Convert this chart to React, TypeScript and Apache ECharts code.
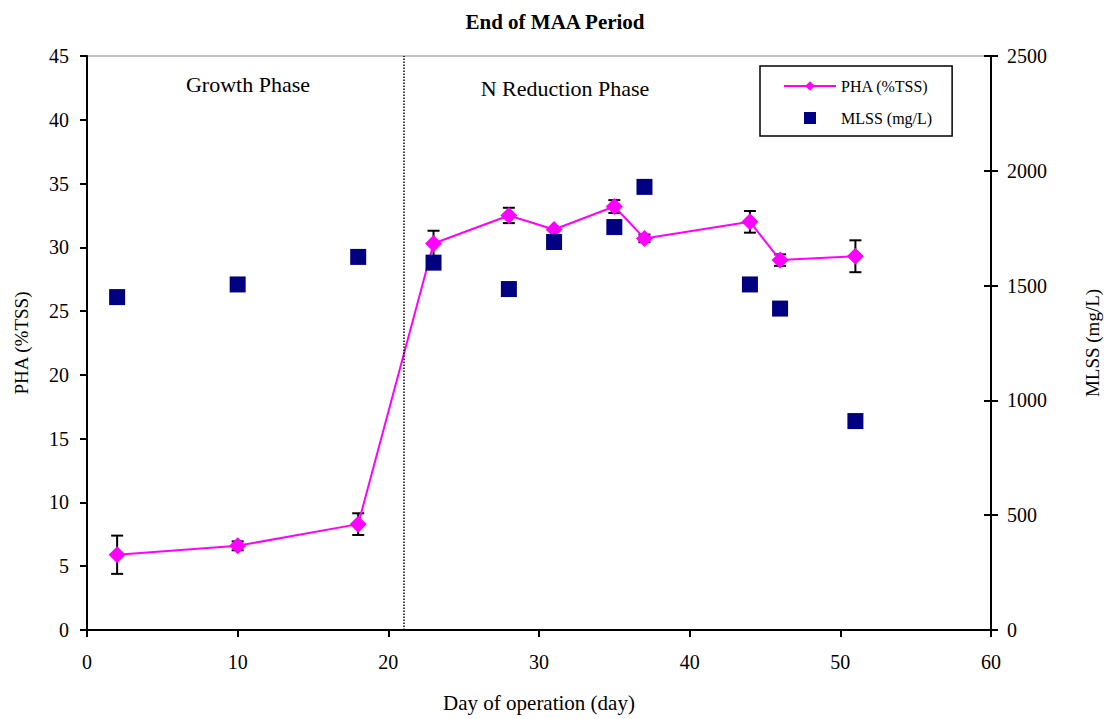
import React, { useEffect, useRef } from "react";
import * as echarts from "echarts";

const days = [2, 10, 18, 23, 28, 31, 35, 37, 44, 46, 51];
const pha = [5.9, 6.6, 8.3, 30.3, 32.5, 31.4, 33.2, 30.7, 32.0, 29.0, 29.3];
const phaErr = [1.5, 0.35, 0.85, 1.0, 0.6, 0, 0.5, 0.3, 0.85, 0.45, 1.25];
const mlss = [1450, 1505, 1625, 1600, 1485, 1690, 1755, 1930, 1505, 1400, 910];
const phaseBoundary = 21;
const phaseLabels = ["Growth Phase", "N Reduction Phase"];

const FONT = "Liberation Serif";

export default function App() {
  const ref = useRef<HTMLDivElement>(null);
  useEffect(() => {
    if (!ref.current) return;
    const chart = echarts.init(ref.current, null, { renderer: "svg" });
    const phaData = days.map((d, i) => [d, pha[i]]);
    const mlssData = days.map((d, i) => [d, mlss[i]]);
    const errData = days
      .map((d, i) => [d, pha[i] - phaErr[i], pha[i] + phaErr[i]])
      .filter((_, i) => phaErr[i] > 0);

    const tick = { fontFamily: FONT, fontSize: 20, color: "#000" };
    const nameStyle = { fontFamily: FONT, fontSize: 21, color: "#000" };
    const vNameStyle = { fontFamily: FONT, fontSize: 19, color: "#000" };

    chart.setOption({
      animation: false,
      backgroundColor: "#fff",
      textStyle: { fontFamily: FONT, color: "#000" },
      title: {
        text: "End of MAA Period",
        left: "center",
        top: 6,
        textStyle: { fontFamily: FONT, fontWeight: "bold", fontSize: 21, color: "#000" },
      },
      grid: {
        left: 87,
        right: 119,
        top: 56,
        bottom: 89,
        containLabel: false,
        outerBoundsMode: "none",
        show: true,
        borderColor: "#808080",
        borderWidth: 1,
        backgroundColor: "transparent",
      },
      legend: {
        orient: "vertical",
        left: 760,
        top: 66,
        padding: [12, 20, 10, 23],
        itemGap: 16,
        itemWidth: 52,
        itemHeight: 12,
        borderColor: "#000",
        borderWidth: 1.5,
        backgroundColor: "#fff",
        textStyle: { fontFamily: FONT, fontSize: 16, color: "#000" },
        data: [
          { name: "PHA (%TSS)" },
          { name: "MLSS (mg/L)", icon: "path://M0,0h10v10h-10z" },
        ],
      },
      xAxis: {
        type: "value",
        min: 0,
        max: 60,
        interval: 10,
        name: "Day of operation (day)",
        nameLocation: "middle",
        nameGap: 62,
        nameTextStyle: nameStyle,
        axisLine: { show: true, lineStyle: { color: "#000", width: 2 } },
        axisTick: { show: true, length: 7, lineStyle: { color: "#000", width: 2 } },
        axisLabel: { ...tick, margin: 22 },
        splitLine: { show: false },
      },
      yAxis: [
        {
          type: "value",
          min: 0,
          max: 45,
          interval: 5,
          position: "left",
          name: "PHA (%TSS)",
          nameLocation: "middle",
          nameRotate: 90,
          nameGap: 56,
          nameTextStyle: vNameStyle,
          axisLine: { show: true, lineStyle: { color: "#000", width: 2 } },
          axisTick: { show: true, length: 7, lineStyle: { color: "#000", width: 2 } },
          axisLabel: { ...tick, margin: 18 },
          splitLine: { show: false },
        },
        {
          type: "value",
          min: 0,
          max: 2500,
          interval: 500,
          position: "right",
          name: "MLSS (mg/L)",
          nameLocation: "middle",
          nameRotate: 90,
          nameGap: 92,
          nameTextStyle: vNameStyle,
          axisLine: { show: true, lineStyle: { color: "#000", width: 2 } },
          axisTick: { show: true, length: 7, lineStyle: { color: "#000", width: 2 } },
          axisLabel: { ...tick, margin: 16, formatter: (v: number) => String(v) },
          splitLine: { show: false },
        },
        {
          type: "value",
          min: 0,
          max: 2500,
          interval: 500,
          position: "right",
          axisLine: { show: false },
          axisTick: { show: true, inside: true, length: 7, lineStyle: { color: "#000", width: 2 } },
          axisLabel: { show: false },
          splitLine: { show: false },
        },
      ],
      graphic: [
        {
          type: "text",
          x: 248,
          y: 84,
          style: {
            text: phaseLabels[0],
            fontFamily: FONT,
            fontSize: 22,
            fill: "#000",
            align: "center",
            verticalAlign: "middle",
          },
        },
        {
          type: "text",
          x: 565,
          y: 88,
          style: {
            text: phaseLabels[1],
            fontFamily: FONT,
            fontSize: 22,
            fill: "#000",
            align: "center",
            verticalAlign: "middle",
          },
        },
      ],
      series: [
        {
          type: "custom",
          name: "err",
          xAxisIndex: 0,
          yAxisIndex: 0,
          z: 1,
          silent: true,
          data: errData,
          renderItem: (params: any, api: any) => {
            const x = api.value(0);
            const lo = api.coord([x, api.value(1)]);
            const hi = api.coord([x, api.value(2)]);
            const w = 6;
            const st = { stroke: "#000", lineWidth: 2 };
            return {
              type: "group",
              children: [
                { type: "line", shape: { x1: lo[0], y1: lo[1], x2: hi[0], y2: hi[1] }, style: st },
                { type: "line", shape: { x1: lo[0] - w, y1: lo[1], x2: lo[0] + w, y2: lo[1] }, style: st },
                { type: "line", shape: { x1: hi[0] - w, y1: hi[1], x2: hi[0] + w, y2: hi[1] }, style: st },
              ],
            };
          },
        },
        {
          type: "line",
          name: "PHA (%TSS)",
          xAxisIndex: 0,
          yAxisIndex: 0,
          z: 3,
          data: phaData,
          symbol: "diamond",
          symbolSize: 17,
          showAllSymbol: true,
          lineStyle: { color: "#FF00FF", width: 2 },
          itemStyle: { color: "#FF00FF" },
          markLine: {
            silent: true,
            symbol: ["none", "none"],
            label: { show: false },
            lineStyle: { color: "#000", type: "dotted", width: 1.5 },
            data: [{ xAxis: phaseBoundary }],
          },
        },
        {
          type: "scatter",
          name: "MLSS (mg/L)",
          xAxisIndex: 0,
          yAxisIndex: 1,
          z: 4,
          data: mlssData,
          symbol: "rect",
          symbolSize: 16,
          itemStyle: { color: "#000080", opacity: 1 },
        },
      ],
    });
    return () => chart.dispose();
  }, []);
  return (
    <div
      ref={ref}
      style={{ position: "absolute", left: 0, top: 0, width: 1110, height: 719 }}
    />
  );
}
